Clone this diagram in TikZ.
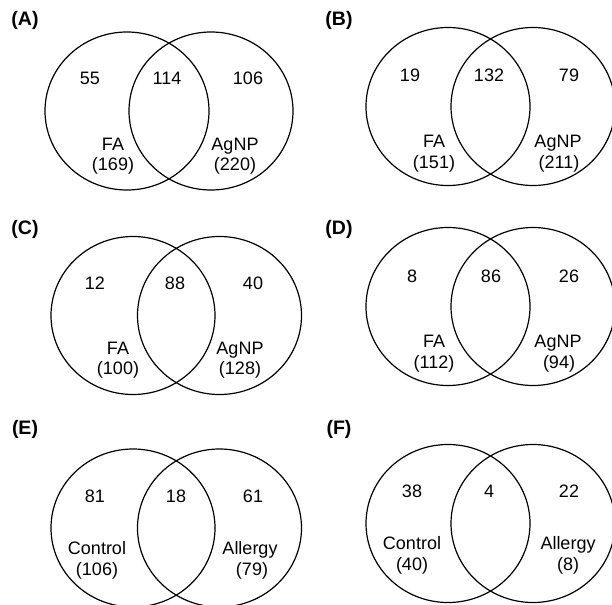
\documentclass[tikz,border=0pt]{standalone}
\usepackage{fontspec}
\setmainfont{Liberation Sans}
\usetikzlibrary{shapes.geometric}
\tikzset{
  venn/.style={draw, ellipse, line width=1.2pt, minimum width=164pt, minimum height=158pt, inner sep=0pt},
  num/.style={anchor=base, inner sep=0pt, font=\fontsize{18}{22}\selectfont},
  plabel/.style={anchor=base, inner sep=0pt, font=\fontsize{19.5}{23}\selectfont\bfseries},
}
\begin{document}
\begin{tikzpicture}[x=1pt,y=-1pt]
\useasboundingbox (0,0) rectangle (612,604);
% ---------- A ----------
\node[plabel] (la) at (25,26) {(A)};
\node[venn] (a1) at (127,111) {};
\node[venn] (a2) at (211,111) {};
\node[num] (a55) at (90,85) {55};
\node[num] (a114) at (167,85) {114};
\node[num] (a106) at (248,85) {106};
\node[num] (afa) at (113,150) {FA};
\node[num] (afan) at (113,170) {(169)};
\node[num] (aag) at (235,150) {AgNP};
\node[num] (aagn) at (235,170) {(220)};
% ---------- B ----------
\node[plabel] (lb) at (339,26) {(B)};
\node[venn] (b1) at (448,106.5) {};
\node[venn] (b2) at (533,106.5) {};
\node[num] (b19) at (410,82) {19};
\node[num] (b132) at (489,82) {132};
\node[num] (b79) at (569,82) {79};
\node[num] (bfa) at (434,147) {FA};
\node[num] (bfan) at (434,168) {(151)};
\node[num] (bag) at (558,147) {AgNP};
\node[num] (bagn) at (559,168) {(211)};
% ---------- C ----------
\node[plabel] (lc) at (25,234) {(C)};
\node[venn] (c1) at (133,315.5) {};
\node[venn] (c2) at (219.5,315.5) {};
\node[num] (c12) at (95,289) {12};
\node[num] (c88) at (175,289) {88};
\node[num] (c40) at (253,289) {40};
\node[num] (cfa) at (118,354) {FA};
\node[num] (cfan) at (118,374) {(100)};
\node[num] (cag) at (240,354) {AgNP};
\node[num] (cagn) at (240,374) {(128)};
% ---------- D ----------
\node[plabel] (ld) at (339,234) {(D)};
\node[venn] (d1) at (448,306.5) {};
\node[venn] (d2) at (533,306.5) {};
\node[num] (d8) at (412,282) {8};
\node[num] (d86) at (491,282) {86};
\node[num] (d26) at (569,282) {26};
\node[num] (dfa) at (434,347) {FA};
\node[num] (dfan) at (434,368) {(112)};
\node[num] (dag) at (558,347) {AgNP};
\node[num] (dagn) at (559,368) {(94)};
% ---------- E ----------
\node[plabel] (le) at (25,434) {(E)};
\node[venn] (e1) at (133,528) {};
\node[venn] (e2) at (219.5,528) {};
\node[num] (e81) at (95,502) {81};
\node[num] (e18) at (176,502) {18};
\node[num] (e61) at (253,502) {61};
\node[num] (ect) at (97,554) {Control};
\node[num] (ectn) at (97,575) {(106)};
\node[num] (eal) at (250,554) {Allergy};
\node[num] (ealn) at (252,575) {(79)};
% ---------- F ----------
\node[plabel] (lf) at (339,434) {(F)};
\node[venn] (f1) at (448,523.5) {};
\node[venn] (f2) at (533,523.5) {};
\node[num] (f38) at (412,497) {38};
\node[num] (f4) at (489,497) {4};
\node[num] (f22) at (569,497) {22};
\node[num] (fct) at (412,549) {Control};
\node[num] (fctn) at (412,570) {(40)};
\node[num] (fal) at (568,549) {Allergy};
\node[num] (faln) at (568,570) {(8)};
\end{tikzpicture}
\end{document}
